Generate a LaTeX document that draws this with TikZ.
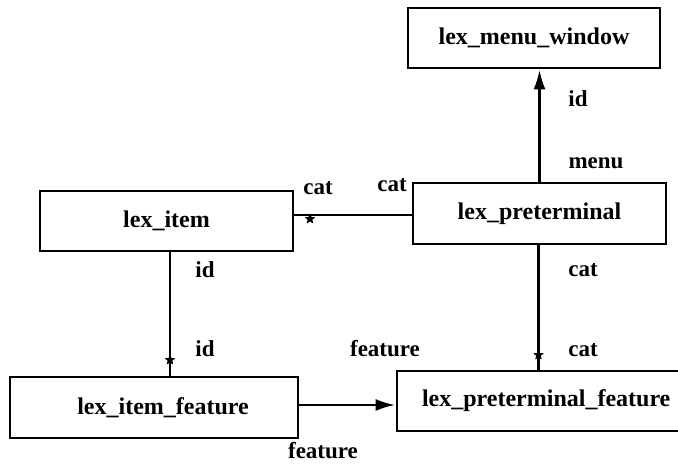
\documentclass[tikz,border=0pt]{standalone}
\usepackage{fontspec}
\setmainfont{Liberation Serif}
\usetikzlibrary{arrows.meta,calc,shapes.geometric}
\begin{document}
\begin{tikzpicture}[x=1pt,y=-1pt,
  ent/.style={draw,line width=2.8pt,rectangle,inner sep=0pt,font=\fontsize{24}{28}\selectfont\bfseries},
  lbl/.style={inner sep=0pt,font=\fontsize{23}{27}\selectfont\bfseries},
  conn/.style={line width=2.8pt},
  arr/.style={line width=2.8pt,-{Latex[length=20pt,width=12pt]}},
  mk/.style={star,star points=5,star point ratio=2.2,fill=black,inner sep=0pt,minimum size=11pt}]
\useasboundingbox (0,0) rectangle (678,465);
\clip (0,0) rectangle (678,465);
\node[ent,minimum width=252pt,minimum height=60pt] (menu) at (534,38) {lex\_menu\_window};
\node[ent,minimum width=253pt,minimum height=60pt] (item) at (166.5,221) {lex\_item};
\node[ent,minimum width=253pt,minimum height=61pt] (pre) at (539.5,213.5) {lex\_preterminal};
\node[ent,minimum width=288pt,minimum height=61pt] (itemf) at (154,407.5) {\hspace*{18pt}lex\_item\_feature};
\node[ent,minimum width=300pt,minimum height=60pt,text width=280pt,align=left] (pref) at (547,401) {\hspace*{15pt}lex\_preterminal\_feature};
% connectors
\draw[arr] (pre.north) -- (pre.north |- menu.south);
\draw[conn] ([yshift=6pt]item.east) -- ([yshift=6pt]item.east -| pre.west);
\draw[conn] ([xshift=3.5pt]item.south) -- ([xshift=3.5pt]item.south |- itemf.north);
\draw[conn] ([xshift=-1pt]pre.south) -- ([xshift=-1pt]pre.south |- pref.north);
\draw[arr] ([yshift=2.5pt]itemf.east) -- ([yshift=2.5pt]itemf.east -| pref.west);
% many marks
\node[mk] (m1) at (310,219) {};
\node[mk] (m2) at (170,360) {};
\node[mk] (m3) at (538.5,355) {};
% labels
\node[lbl] (l1) at (318,188) {cat};
\node[lbl] (l2) at (392,185) {cat};
\node[lbl] (l3) at (205,270) {id};
\node[lbl] (l4) at (205,349) {id};
\node[lbl] (l5) at (578,99) {id};
\node[lbl] (l6) at (596,163) {menu};
\node[lbl] (l7) at (583,270) {cat};
\node[lbl] (l8) at (583,350) {cat};
\node[lbl] (l9) at (385,349) {feature};
\node[lbl] (l10) at (323,451) {feature};
\end{tikzpicture}
\end{document}
